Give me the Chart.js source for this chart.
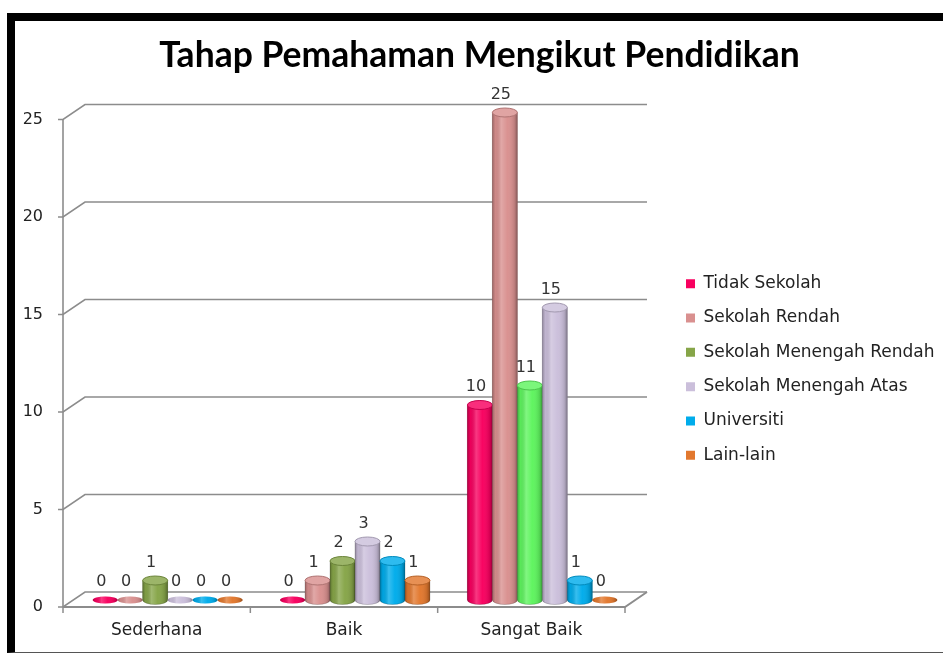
<!DOCTYPE html>
<html>
<head>
<meta charset="utf-8">
<title>Tahap Pemahaman Mengikut Pendidikan</title>
<script src="https://cdn.jsdelivr.net/npm/chart.js@4.4.0/dist/chart.umd.min.js"></script>
<style>
  html, body { margin: 0; padding: 0; background: #fff; }
  #wrap { position: relative; width: 943px; height: 653px; overflow: hidden; }
  #chart { position: absolute; left: 0; top: 0; }
  /* bingkai hitam tangkapan skrin */
  #frame {
    position: absolute; left: 7px; top: 13px; right: 0; height: 640px;
    box-sizing: border-box;
    border-top: 8px solid #000; border-left: 8px solid #000; border-bottom: 1px solid #555;
    pointer-events: none;
  }
</style>
</head>
<body>
<div id="wrap">
  <canvas id="chart" width="943" height="653"></canvas>
  <div id="frame"></div>
</div>
<script>
// ─── Data ────────────────────────────────────────────
const categories = ['Sederhana', 'Baik', 'Sangat Baik'];
const seriesNames = ['Tidak Sekolah', 'Sekolah Rendah', 'Sekolah Menengah Rendah', 'Sekolah Menengah Atas', 'Universiti', 'Lain-lain'];
const tidakSekolah   = [0, 0, 10];
const sekolahRendah  = [0, 1, 25];
const menengahRendah = [1, 2, 11];
const menengahAtas   = [0, 3, 15];
const universiti     = [0, 2, 1];
const lainLain       = [0, 1, 0];
const yTicks = [0, 5, 10, 15, 20, 25];

// ─── Warna ───────────────────────────────────────────
const colors = ['#f8005f', '#d9908f', '#86a548', '#cbbfdb', '#00aceb', '#e2782e'];
const brightGreen = '#5ef45e';

const shade = (hex, amt) => {
  const n = parseInt(hex.slice(1), 16);
  let r = (n >> 16) & 255, g = (n >> 8) & 255, b = n & 255;
  const t = amt > 0 ? 255 : 0, p = Math.abs(amt);
  r = Math.round(r + (t - r) * p); g = Math.round(g + (t - g) * p); b = Math.round(b + (t - b) * p);
  return `rgb(${r},${g},${b})`;
};

// ─── Dinding & lantai 3D ─────────────────────────────
const DX = 11, DYF = 7, DYB = 8;
const walls3d = {
  id: 'walls3d',
  beforeDatasetsDraw(chart) {
    const { ctx, chartArea: a, scales: { x, y } } = chart;
    const base = y.getPixelForValue(0);
    ctx.save();
    ctx.strokeStyle = '#8c8c8c';
    ctx.lineWidth = 1.6;
    y.ticks.forEach((t) => {
      const m = y.getPixelForValue(t.value);
      ctx.beginPath();
      ctx.moveTo(a.left - DX - 5, m + DYF);
      ctx.lineTo(a.left - DX, m + DYF);
      ctx.lineTo(a.left + DX, m - DYB);
      ctx.lineTo(a.right + DX, m - DYB);
      ctx.stroke();
    });
    // paksi menegak hadapan
    ctx.beginPath();
    ctx.moveTo(a.left - DX, y.getPixelForValue(yTicks[yTicks.length - 1]) + DYF);
    ctx.lineTo(a.left - DX, base + DYF);
    ctx.stroke();
    // lantai
    ctx.lineWidth = 2;
    ctx.beginPath();
    ctx.moveTo(a.left - DX, base + DYF);
    ctx.lineTo(a.right - DX, base + DYF);
    ctx.lineTo(a.right + DX, base - DYB);
    ctx.stroke();
    // tanda kategori
    ctx.lineWidth = 1.5;
    const n = x.getLabels().length;
    for (let i = 0; i <= n; i++) {
      const xx = a.left - DX + i * a.width / n;
      ctx.beginPath();
      ctx.moveTo(xx, base + DYF);
      ctx.lineTo(xx, base + DYF + 6);
      ctx.stroke();
    }
    ctx.restore();
  },
};

// ─── Silinder + label nilai ──────────────────────────
const cylinders = {
  id: 'cylinders',
  afterDatasetsDraw(chart) {
    const { ctx } = chart;
    ctx.save();
    chart.data.datasets.forEach((ds, di) => {
      const meta = chart.getDatasetMeta(di);
      meta.data.forEach((bar, i) => {
        const { x, y, base, width } = bar.getProps(['x', 'y', 'base', 'width'], true);
        const col = bar.options.backgroundColor;
        const l = x - width / 2, r = x + width / 2, ry = 4.5;
        const g = ctx.createLinearGradient(l, 0, r, 0);
        g.addColorStop(0, 'rgba(0,0,0,0.28)');
        g.addColorStop(0.12, 'rgba(0,0,0,0.05)');
        g.addColorStop(0.35, 'rgba(255,255,255,0.22)');
        g.addColorStop(0.6, 'rgba(255,255,255,0.02)');
        g.addColorStop(0.88, 'rgba(0,0,0,0.12)');
        g.addColorStop(1, 'rgba(0,0,0,0.35)');
        if (base - y > 0.5) {
          ctx.beginPath();
          ctx.moveTo(l, y);
          ctx.lineTo(l, base);
          ctx.ellipse(x, base, width / 2, ry, 0, Math.PI, 0, true);
          ctx.lineTo(r, y);
          ctx.closePath();
          ctx.fillStyle = col; ctx.fill();
          ctx.fillStyle = g; ctx.fill();
          ctx.strokeStyle = 'rgba(0,0,0,0.18)'; ctx.lineWidth = 1; ctx.stroke();
          ctx.beginPath();
          ctx.ellipse(x, y, width / 2, ry, 0, 0, Math.PI * 2);
          ctx.fillStyle = shade(col, 0.18); ctx.fill();
          ctx.strokeStyle = shade(col, -0.2); ctx.stroke();
        } else {
          ctx.beginPath();
          ctx.ellipse(x, base, width / 2, 3.5, 0, 0, Math.PI * 2);
          ctx.fillStyle = col; ctx.fill();
          ctx.fillStyle = g; ctx.fill();
        }
        ctx.font = "16px 'DejaVu Sans'";
        ctx.fillStyle = '#333';
        ctx.textAlign = 'center';
        ctx.textBaseline = 'middle';
        ctx.fillText(String(ds.data[i]), x - 4, y - 18);
      });
    });
    ctx.restore();
  },
};

Chart.defaults.font.family = "'DejaVu Sans', sans-serif";
Chart.defaults.color = '#222';

const seriesData = [tidakSekolah, sekolahRendah, menengahRendah, menengahAtas, universiti, lainLain];

new Chart(document.getElementById('chart'), {
  type: 'bar',
  data: {
    labels: categories,
    datasets: seriesData.map((d, k) => ({
      label: seriesNames[k],
      data: d,
      yAxisID: 'y',
      backgroundColor: k === 2
        ? (c) => (c.dataIndex === 2 ? brightGreen : colors[k])
        : colors[k],
      borderWidth: 0,
      barPercentage: 1,
      categoryPercentage: 0.8,
    })),
  },
  options: {
    responsive: false,
    devicePixelRatio: 1,
    animation: false,
    events: [],
    layout: { padding: { top: 21, right: 0, bottom: 0, left: 16 } },
    plugins: {
      tooltip: { enabled: false },
      title: {
        display: true,
        text: 'Tahap Pemahaman Mengikut Pendidikan',
        color: '#000',
        font: { family: 'Lato', size: 35.5, weight: 'bold' },
        padding: { top: 13.7, bottom: 35.2 },
      },
      legend: {
        position: 'right',
        maxWidth: 274.3,
        title: { display: true, text: '', padding: 22.9, font: { size: 16 } },
        labels: { boxWidth: 9, boxHeight: 9, padding: 17.3, color: '#222', font: { size: 17 } },
      },
    },
    scales: {
      x: {
        grid: { display: false, drawTicks: false },
        border: { display: false },
        ticks: { padding: 20, labelOffset: -DX, color: '#222', font: { size: 17 } },
        afterFit: (s) => { s.height = 53; },
      },
      y: {
        min: yTicks[0],
        max: yTicks[yTicks.length - 1],
        grid: { display: false, drawTicks: false },
        border: { display: false },
        ticks: { stepSize: yTicks[1] - yTicks[0], padding: 31, labelOffset: DYF, color: '#222', font: { size: 16 } },
        afterFit: (s) => { s.width = 58; },
      },
      y2: {
        position: 'right',
        grid: { display: false, drawTicks: false },
        border: { display: false },
        ticks: { display: false },
        afterFit: (s) => { s.width = 32.7; },
      },
    },
  },
  plugins: [walls3d, cylinders],
});
</script>
</body>
</html>
